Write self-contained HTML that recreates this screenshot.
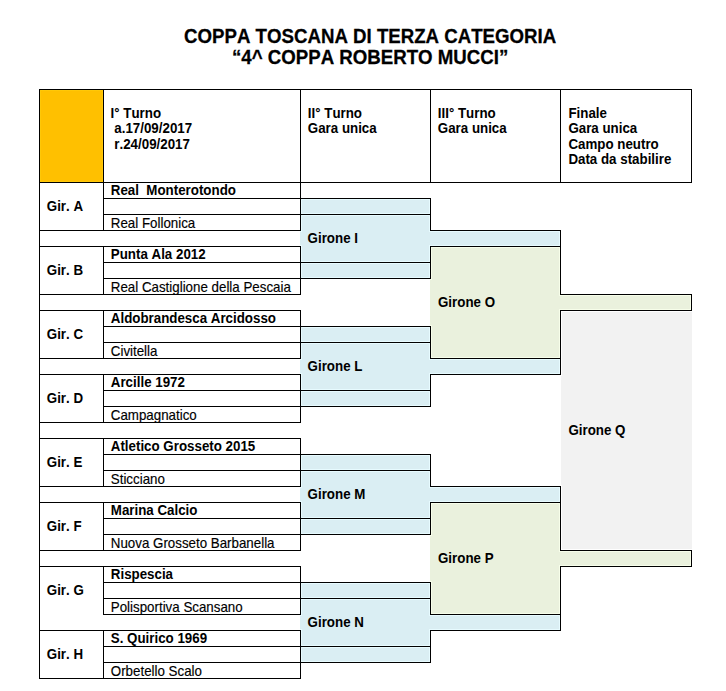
<!DOCTYPE html>
<html lang="it">
<head>
<meta charset="utf-8">
<title>Coppa Toscana di Terza Categoria</title>
<style>
html,body{margin:0;padding:0;background:#fff;}
body{width:726px;height:691px;position:relative;overflow:hidden;font-family:"Liberation Sans",sans-serif;color:#000;}
.f,.g,.l,.t,.h{position:absolute;}
.g1{background:#e7fbff;}.g2{background:#f7feea;}.g3{background:#ffffff;}.g4{background:#ffc808;}
.l{background:#000;}
.t,.h{white-space:pre;line-height:16px;height:16px;font-size:13.33px;font-kerning:none;transform:scaleY(1.04);transform-origin:0 12px;}
.t{-webkit-text-stroke:0.15px #000;}
.b{font-weight:bold;-webkit-text-stroke:0;}
.h{font-weight:bold;font-size:18.67px;line-height:22px;height:22px;transform-origin:0 17px;-webkit-text-stroke:0.25px #000;}
</style>
</head>
<body>
<div class="h" style="left:184.1px;top:26.00px">COPPA TOSCANA DI TERZA CATEGORIA</div>
<div class="h" style="left:232.0px;top:47.00px">“4^ COPPA ROBERTO MUCCI”</div>
<div class="f" style="left:39px;top:89px;width:64px;height:93px;background:#ffc000"></div>
<div class="f" style="left:300px;top:198px;width:130px;height:80px;background:#daeef3"></div>
<div class="f" style="left:300px;top:326px;width:130px;height:80px;background:#daeef3"></div>
<div class="f" style="left:300px;top:454px;width:130px;height:80px;background:#daeef3"></div>
<div class="f" style="left:300px;top:582px;width:130px;height:80px;background:#daeef3"></div>
<div class="f" style="left:430px;top:230px;width:130px;height:16px;background:#daeef3"></div>
<div class="f" style="left:430px;top:358px;width:130px;height:16px;background:#daeef3"></div>
<div class="f" style="left:430px;top:246px;width:130px;height:112px;background:#eaf1dd"></div>
<div class="f" style="left:430px;top:486px;width:130px;height:16px;background:#daeef3"></div>
<div class="f" style="left:430px;top:614px;width:130px;height:16px;background:#daeef3"></div>
<div class="f" style="left:430px;top:502px;width:130px;height:112px;background:#eaf1dd"></div>
<div class="f" style="left:561px;top:310px;width:131px;height:240px;background:#f2f2f2"></div>
<div class="f" style="left:560px;top:294px;width:131px;height:16px;background:#eaf1dd"></div>
<div class="f" style="left:560px;top:550px;width:131px;height:16px;background:#eaf1dd"></div>
<div class="g g1" style="left:301px;top:199px;width:129px;height:1px"></div>
<div class="g g1" style="left:301px;top:213px;width:129px;height:1px"></div>
<div class="g g1" style="left:301px;top:215px;width:129px;height:1px"></div>
<div class="g g1" style="left:429px;top:231px;width:131px;height:1px"></div>
<div class="g g1" style="left:429px;top:245px;width:131px;height:1px"></div>
<div class="g g1" style="left:301px;top:261px;width:129px;height:1px"></div>
<div class="g g1" style="left:301px;top:263px;width:129px;height:1px"></div>
<div class="g g1" style="left:301px;top:277px;width:129px;height:1px"></div>
<div class="g g1" style="left:301px;top:327px;width:129px;height:1px"></div>
<div class="g g1" style="left:301px;top:341px;width:129px;height:1px"></div>
<div class="g g1" style="left:301px;top:343px;width:129px;height:1px"></div>
<div class="g g1" style="left:429px;top:359px;width:131px;height:1px"></div>
<div class="g g1" style="left:429px;top:373px;width:131px;height:1px"></div>
<div class="g g1" style="left:301px;top:389px;width:129px;height:1px"></div>
<div class="g g1" style="left:301px;top:391px;width:129px;height:1px"></div>
<div class="g g1" style="left:301px;top:405px;width:129px;height:1px"></div>
<div class="g g1" style="left:301px;top:455px;width:129px;height:1px"></div>
<div class="g g1" style="left:301px;top:469px;width:129px;height:1px"></div>
<div class="g g1" style="left:301px;top:471px;width:129px;height:1px"></div>
<div class="g g1" style="left:429px;top:487px;width:131px;height:1px"></div>
<div class="g g1" style="left:429px;top:501px;width:131px;height:1px"></div>
<div class="g g1" style="left:301px;top:517px;width:129px;height:1px"></div>
<div class="g g1" style="left:301px;top:519px;width:129px;height:1px"></div>
<div class="g g1" style="left:301px;top:533px;width:129px;height:1px"></div>
<div class="g g1" style="left:301px;top:583px;width:129px;height:1px"></div>
<div class="g g1" style="left:301px;top:597px;width:129px;height:1px"></div>
<div class="g g1" style="left:301px;top:599px;width:129px;height:1px"></div>
<div class="g g1" style="left:429px;top:615px;width:131px;height:1px"></div>
<div class="g g1" style="left:429px;top:629px;width:131px;height:1px"></div>
<div class="g g1" style="left:301px;top:645px;width:129px;height:1px"></div>
<div class="g g1" style="left:301px;top:647px;width:129px;height:1px"></div>
<div class="g g1" style="left:301px;top:661px;width:129px;height:1px"></div>
<div class="g g1" style="left:300px;top:231px;width:1px;height:1px"></div>
<div class="g g1" style="left:300px;top:245px;width:1px;height:1px"></div>
<div class="g g1" style="left:300px;top:359px;width:1px;height:1px"></div>
<div class="g g1" style="left:300px;top:373px;width:1px;height:1px"></div>
<div class="g g1" style="left:300px;top:487px;width:1px;height:1px"></div>
<div class="g g1" style="left:300px;top:501px;width:1px;height:1px"></div>
<div class="g g1" style="left:300px;top:615px;width:1px;height:1px"></div>
<div class="g g1" style="left:300px;top:629px;width:1px;height:1px"></div>
<div class="g g1" style="left:301px;top:200px;width:1px;height:13px"></div>
<div class="g g1" style="left:301px;top:216px;width:1px;height:16px"></div>
<div class="g g1" style="left:301px;top:245px;width:1px;height:16px"></div>
<div class="g g1" style="left:301px;top:264px;width:1px;height:13px"></div>
<div class="g g1" style="left:301px;top:328px;width:1px;height:13px"></div>
<div class="g g1" style="left:301px;top:344px;width:1px;height:16px"></div>
<div class="g g1" style="left:301px;top:373px;width:1px;height:16px"></div>
<div class="g g1" style="left:301px;top:392px;width:1px;height:13px"></div>
<div class="g g1" style="left:301px;top:456px;width:1px;height:13px"></div>
<div class="g g1" style="left:301px;top:472px;width:1px;height:16px"></div>
<div class="g g1" style="left:301px;top:501px;width:1px;height:16px"></div>
<div class="g g1" style="left:301px;top:520px;width:1px;height:13px"></div>
<div class="g g1" style="left:301px;top:584px;width:1px;height:13px"></div>
<div class="g g1" style="left:301px;top:600px;width:1px;height:16px"></div>
<div class="g g1" style="left:301px;top:629px;width:1px;height:16px"></div>
<div class="g g1" style="left:301px;top:648px;width:1px;height:13px"></div>
<div class="g g1" style="left:429px;top:200px;width:1px;height:13px"></div>
<div class="g g1" style="left:429px;top:216px;width:1px;height:15px"></div>
<div class="g g1" style="left:429px;top:246px;width:1px;height:15px"></div>
<div class="g g1" style="left:429px;top:264px;width:1px;height:13px"></div>
<div class="g g1" style="left:429px;top:328px;width:1px;height:13px"></div>
<div class="g g1" style="left:429px;top:344px;width:1px;height:15px"></div>
<div class="g g1" style="left:429px;top:374px;width:1px;height:15px"></div>
<div class="g g1" style="left:429px;top:392px;width:1px;height:13px"></div>
<div class="g g1" style="left:429px;top:456px;width:1px;height:13px"></div>
<div class="g g1" style="left:429px;top:472px;width:1px;height:15px"></div>
<div class="g g1" style="left:429px;top:502px;width:1px;height:15px"></div>
<div class="g g1" style="left:429px;top:520px;width:1px;height:13px"></div>
<div class="g g1" style="left:429px;top:584px;width:1px;height:13px"></div>
<div class="g g1" style="left:429px;top:600px;width:1px;height:15px"></div>
<div class="g g1" style="left:429px;top:630px;width:1px;height:15px"></div>
<div class="g g1" style="left:429px;top:648px;width:1px;height:13px"></div>
<div class="g g1" style="left:559px;top:232px;width:1px;height:13px"></div>
<div class="g g1" style="left:559px;top:360px;width:1px;height:13px"></div>
<div class="g g1" style="left:559px;top:488px;width:1px;height:13px"></div>
<div class="g g1" style="left:559px;top:616px;width:1px;height:13px"></div>
<div class="g g2" style="left:431px;top:247px;width:129px;height:1px"></div>
<div class="g g2" style="left:559px;top:295px;width:132px;height:1px"></div>
<div class="g g2" style="left:559px;top:309px;width:132px;height:1px"></div>
<div class="g g2" style="left:431px;top:357px;width:129px;height:1px"></div>
<div class="g g2" style="left:431px;top:503px;width:129px;height:1px"></div>
<div class="g g2" style="left:559px;top:551px;width:132px;height:1px"></div>
<div class="g g2" style="left:559px;top:565px;width:132px;height:1px"></div>
<div class="g g2" style="left:431px;top:613px;width:129px;height:1px"></div>
<div class="g g2" style="left:430px;top:279px;width:1px;height:1px"></div>
<div class="g g2" style="left:430px;top:325px;width:1px;height:1px"></div>
<div class="g g2" style="left:430px;top:535px;width:1px;height:1px"></div>
<div class="g g2" style="left:430px;top:581px;width:1px;height:1px"></div>
<div class="g g2" style="left:431px;top:248px;width:1px;height:32px"></div>
<div class="g g2" style="left:431px;top:325px;width:1px;height:32px"></div>
<div class="g g2" style="left:431px;top:504px;width:1px;height:32px"></div>
<div class="g g2" style="left:431px;top:581px;width:1px;height:32px"></div>
<div class="g g2" style="left:559px;top:248px;width:1px;height:47px"></div>
<div class="g g2" style="left:559px;top:310px;width:1px;height:47px"></div>
<div class="g g2" style="left:559px;top:504px;width:1px;height:47px"></div>
<div class="g g2" style="left:559px;top:566px;width:1px;height:47px"></div>
<div class="g g2" style="left:690px;top:296px;width:1px;height:13px"></div>
<div class="g g2" style="left:690px;top:552px;width:1px;height:13px"></div>
<div class="g g3" style="left:561px;top:311px;width:131px;height:1px"></div>
<div class="g g3" style="left:561px;top:549px;width:131px;height:1px"></div>
<div class="g g3" style="left:561px;top:312px;width:1px;height:64px"></div>
<div class="g g3" style="left:561px;top:485px;width:1px;height:64px"></div>
<div class="g g4" style="left:40px;top:90px;width:63px;height:1px"></div>
<div class="g g4" style="left:40px;top:181px;width:63px;height:1px"></div>
<div class="g g4" style="left:40px;top:91px;width:1px;height:90px"></div>
<div class="g g4" style="left:102px;top:91px;width:1px;height:90px"></div>
<div class="l" style="left:39px;top:89px;width:653px;height:1px"></div>
<div class="l" style="left:39px;top:182px;width:653px;height:1px"></div>
<div class="l" style="left:103px;top:198px;width:328px;height:1px"></div>
<div class="l" style="left:103px;top:214px;width:328px;height:1px"></div>
<div class="l" style="left:39px;top:230px;width:262px;height:1px"></div>
<div class="l" style="left:430px;top:230px;width:131px;height:1px"></div>
<div class="l" style="left:39px;top:246px;width:262px;height:1px"></div>
<div class="l" style="left:430px;top:246px;width:131px;height:1px"></div>
<div class="l" style="left:103px;top:262px;width:328px;height:1px"></div>
<div class="l" style="left:103px;top:278px;width:328px;height:1px"></div>
<div class="l" style="left:39px;top:294px;width:262px;height:1px"></div>
<div class="l" style="left:560px;top:294px;width:132px;height:1px"></div>
<div class="l" style="left:39px;top:310px;width:262px;height:1px"></div>
<div class="l" style="left:560px;top:310px;width:132px;height:1px"></div>
<div class="l" style="left:103px;top:326px;width:328px;height:1px"></div>
<div class="l" style="left:103px;top:342px;width:328px;height:1px"></div>
<div class="l" style="left:39px;top:358px;width:262px;height:1px"></div>
<div class="l" style="left:430px;top:358px;width:131px;height:1px"></div>
<div class="l" style="left:39px;top:374px;width:262px;height:1px"></div>
<div class="l" style="left:430px;top:374px;width:131px;height:1px"></div>
<div class="l" style="left:103px;top:390px;width:328px;height:1px"></div>
<div class="l" style="left:103px;top:406px;width:328px;height:1px"></div>
<div class="l" style="left:39px;top:422px;width:262px;height:1px"></div>
<div class="l" style="left:39px;top:438px;width:262px;height:1px"></div>
<div class="l" style="left:103px;top:454px;width:328px;height:1px"></div>
<div class="l" style="left:103px;top:470px;width:328px;height:1px"></div>
<div class="l" style="left:39px;top:486px;width:262px;height:1px"></div>
<div class="l" style="left:430px;top:486px;width:131px;height:1px"></div>
<div class="l" style="left:39px;top:502px;width:262px;height:1px"></div>
<div class="l" style="left:430px;top:502px;width:131px;height:1px"></div>
<div class="l" style="left:103px;top:518px;width:328px;height:1px"></div>
<div class="l" style="left:103px;top:534px;width:328px;height:1px"></div>
<div class="l" style="left:39px;top:550px;width:262px;height:1px"></div>
<div class="l" style="left:560px;top:550px;width:132px;height:1px"></div>
<div class="l" style="left:39px;top:566px;width:262px;height:1px"></div>
<div class="l" style="left:560px;top:566px;width:132px;height:1px"></div>
<div class="l" style="left:103px;top:582px;width:328px;height:1px"></div>
<div class="l" style="left:103px;top:598px;width:328px;height:1px"></div>
<div class="l" style="left:103px;top:614px;width:198px;height:1px"></div>
<div class="l" style="left:430px;top:614px;width:131px;height:1px"></div>
<div class="l" style="left:39px;top:630px;width:262px;height:1px"></div>
<div class="l" style="left:430px;top:630px;width:131px;height:1px"></div>
<div class="l" style="left:103px;top:646px;width:328px;height:1px"></div>
<div class="l" style="left:103px;top:662px;width:328px;height:1px"></div>
<div class="l" style="left:39px;top:678px;width:262px;height:1px"></div>
<div class="l" style="left:39px;top:90px;width:1px;height:92px"></div>
<div class="l" style="left:39px;top:183px;width:1px;height:47px"></div>
<div class="l" style="left:39px;top:231px;width:1px;height:15px"></div>
<div class="l" style="left:39px;top:247px;width:1px;height:47px"></div>
<div class="l" style="left:39px;top:295px;width:1px;height:15px"></div>
<div class="l" style="left:39px;top:311px;width:1px;height:47px"></div>
<div class="l" style="left:39px;top:359px;width:1px;height:15px"></div>
<div class="l" style="left:39px;top:375px;width:1px;height:47px"></div>
<div class="l" style="left:39px;top:423px;width:1px;height:15px"></div>
<div class="l" style="left:39px;top:439px;width:1px;height:47px"></div>
<div class="l" style="left:39px;top:487px;width:1px;height:15px"></div>
<div class="l" style="left:39px;top:503px;width:1px;height:47px"></div>
<div class="l" style="left:39px;top:551px;width:1px;height:15px"></div>
<div class="l" style="left:39px;top:567px;width:1px;height:63px"></div>
<div class="l" style="left:39px;top:631px;width:1px;height:47px"></div>
<div class="l" style="left:103px;top:90px;width:1px;height:92px"></div>
<div class="l" style="left:103px;top:183px;width:1px;height:15px"></div>
<div class="l" style="left:103px;top:199px;width:1px;height:15px"></div>
<div class="l" style="left:103px;top:215px;width:1px;height:15px"></div>
<div class="l" style="left:103px;top:247px;width:1px;height:15px"></div>
<div class="l" style="left:103px;top:263px;width:1px;height:15px"></div>
<div class="l" style="left:103px;top:279px;width:1px;height:15px"></div>
<div class="l" style="left:103px;top:311px;width:1px;height:15px"></div>
<div class="l" style="left:103px;top:327px;width:1px;height:15px"></div>
<div class="l" style="left:103px;top:343px;width:1px;height:15px"></div>
<div class="l" style="left:103px;top:375px;width:1px;height:15px"></div>
<div class="l" style="left:103px;top:391px;width:1px;height:15px"></div>
<div class="l" style="left:103px;top:407px;width:1px;height:15px"></div>
<div class="l" style="left:103px;top:439px;width:1px;height:15px"></div>
<div class="l" style="left:103px;top:455px;width:1px;height:15px"></div>
<div class="l" style="left:103px;top:471px;width:1px;height:15px"></div>
<div class="l" style="left:103px;top:503px;width:1px;height:15px"></div>
<div class="l" style="left:103px;top:519px;width:1px;height:15px"></div>
<div class="l" style="left:103px;top:535px;width:1px;height:15px"></div>
<div class="l" style="left:103px;top:567px;width:1px;height:15px"></div>
<div class="l" style="left:103px;top:583px;width:1px;height:15px"></div>
<div class="l" style="left:103px;top:599px;width:1px;height:15px"></div>
<div class="l" style="left:103px;top:631px;width:1px;height:15px"></div>
<div class="l" style="left:103px;top:647px;width:1px;height:15px"></div>
<div class="l" style="left:103px;top:663px;width:1px;height:15px"></div>
<div class="l" style="left:300px;top:90px;width:1px;height:92px"></div>
<div class="l" style="left:300px;top:183px;width:1px;height:15px"></div>
<div class="l" style="left:300px;top:199px;width:1px;height:15px"></div>
<div class="l" style="left:300px;top:215px;width:1px;height:15px"></div>
<div class="l" style="left:300px;top:247px;width:1px;height:15px"></div>
<div class="l" style="left:300px;top:263px;width:1px;height:15px"></div>
<div class="l" style="left:300px;top:279px;width:1px;height:15px"></div>
<div class="l" style="left:300px;top:311px;width:1px;height:15px"></div>
<div class="l" style="left:300px;top:327px;width:1px;height:15px"></div>
<div class="l" style="left:300px;top:343px;width:1px;height:15px"></div>
<div class="l" style="left:300px;top:375px;width:1px;height:15px"></div>
<div class="l" style="left:300px;top:391px;width:1px;height:15px"></div>
<div class="l" style="left:300px;top:407px;width:1px;height:15px"></div>
<div class="l" style="left:300px;top:439px;width:1px;height:15px"></div>
<div class="l" style="left:300px;top:455px;width:1px;height:15px"></div>
<div class="l" style="left:300px;top:471px;width:1px;height:15px"></div>
<div class="l" style="left:300px;top:503px;width:1px;height:15px"></div>
<div class="l" style="left:300px;top:519px;width:1px;height:15px"></div>
<div class="l" style="left:300px;top:535px;width:1px;height:15px"></div>
<div class="l" style="left:300px;top:567px;width:1px;height:15px"></div>
<div class="l" style="left:300px;top:583px;width:1px;height:15px"></div>
<div class="l" style="left:300px;top:599px;width:1px;height:15px"></div>
<div class="l" style="left:300px;top:631px;width:1px;height:15px"></div>
<div class="l" style="left:300px;top:647px;width:1px;height:15px"></div>
<div class="l" style="left:300px;top:663px;width:1px;height:15px"></div>
<div class="l" style="left:430px;top:90px;width:1px;height:92px"></div>
<div class="l" style="left:430px;top:199px;width:1px;height:15px"></div>
<div class="l" style="left:430px;top:215px;width:1px;height:15px"></div>
<div class="l" style="left:430px;top:247px;width:1px;height:15px"></div>
<div class="l" style="left:430px;top:263px;width:1px;height:15px"></div>
<div class="l" style="left:430px;top:327px;width:1px;height:15px"></div>
<div class="l" style="left:430px;top:343px;width:1px;height:15px"></div>
<div class="l" style="left:430px;top:375px;width:1px;height:15px"></div>
<div class="l" style="left:430px;top:391px;width:1px;height:15px"></div>
<div class="l" style="left:430px;top:455px;width:1px;height:15px"></div>
<div class="l" style="left:430px;top:471px;width:1px;height:15px"></div>
<div class="l" style="left:430px;top:503px;width:1px;height:15px"></div>
<div class="l" style="left:430px;top:519px;width:1px;height:15px"></div>
<div class="l" style="left:430px;top:583px;width:1px;height:15px"></div>
<div class="l" style="left:430px;top:599px;width:1px;height:15px"></div>
<div class="l" style="left:430px;top:631px;width:1px;height:15px"></div>
<div class="l" style="left:430px;top:647px;width:1px;height:15px"></div>
<div class="l" style="left:560px;top:90px;width:1px;height:92px"></div>
<div class="l" style="left:560px;top:231px;width:1px;height:15px"></div>
<div class="l" style="left:560px;top:247px;width:1px;height:47px"></div>
<div class="l" style="left:560px;top:311px;width:1px;height:47px"></div>
<div class="l" style="left:560px;top:359px;width:1px;height:15px"></div>
<div class="l" style="left:560px;top:487px;width:1px;height:15px"></div>
<div class="l" style="left:560px;top:503px;width:1px;height:47px"></div>
<div class="l" style="left:560px;top:567px;width:1px;height:47px"></div>
<div class="l" style="left:560px;top:615px;width:1px;height:15px"></div>
<div class="l" style="left:691px;top:90px;width:1px;height:92px"></div>
<div class="l" style="left:691px;top:295px;width:1px;height:15px"></div>
<div class="l" style="left:691px;top:551px;width:1px;height:15px"></div>
<div class="t b" style="left:46.8px;top:199.00px">Gir. A</div>
<div class="t b" style="left:110.8px;top:183.00px">Real  Monterotondo</div>
<div class="t" style="left:110.8px;top:216.00px">Real Follonica</div>
<div class="t b" style="left:46.8px;top:263.00px">Gir. B</div>
<div class="t b" style="left:110.8px;top:247.00px">Punta Ala 2012</div>
<div class="t" style="left:110.8px;top:280.00px">Real Castiglione della Pescaia</div>
<div class="t b" style="left:46.8px;top:327.00px">Gir. C</div>
<div class="t b" style="left:110.8px;top:311.00px">Aldobrandesca Arcidosso</div>
<div class="t" style="left:110.8px;top:344.00px">Civitella</div>
<div class="t b" style="left:46.8px;top:391.00px">Gir. D</div>
<div class="t b" style="left:110.8px;top:375.00px">Arcille 1972</div>
<div class="t" style="left:110.8px;top:408.00px">Campagnatico</div>
<div class="t b" style="left:46.8px;top:455.00px">Gir. E</div>
<div class="t b" style="left:110.8px;top:439.00px">Atletico Grosseto 2015</div>
<div class="t" style="left:110.8px;top:472.00px">Sticciano</div>
<div class="t b" style="left:46.8px;top:519.00px">Gir. F</div>
<div class="t b" style="left:110.8px;top:503.00px">Marina Calcio</div>
<div class="t" style="left:110.8px;top:536.00px">Nuova Grosseto Barbanella</div>
<div class="t b" style="left:46.8px;top:583.00px">Gir. G</div>
<div class="t b" style="left:110.8px;top:567.00px">Rispescia</div>
<div class="t" style="left:110.8px;top:600.00px">Polisportiva Scansano</div>
<div class="t b" style="left:46.8px;top:647.00px">Gir. H</div>
<div class="t b" style="left:110.8px;top:631.00px">S. Quirico 1969</div>
<div class="t" style="left:110.8px;top:664.00px">Orbetello Scalo</div>
<div class="t b" style="left:307.6px;top:231.00px">Girone I</div>
<div class="t b" style="left:307.6px;top:359.00px">Girone L</div>
<div class="t b" style="left:307.6px;top:487.00px">Girone M</div>
<div class="t b" style="left:307.6px;top:615.00px">Girone N</div>
<div class="t b" style="left:438.0px;top:295.00px">Girone O</div>
<div class="t b" style="left:438.0px;top:551.00px">Girone P</div>
<div class="t b" style="left:568.4px;top:423.00px">Girone Q</div>
<div class="t b" style="left:110.6px;top:106.00px">I° Turno</div>
<div class="t b" style="left:110.6px;top:121.00px"> a.17/09/2017</div>
<div class="t b" style="left:110.6px;top:137.00px"> r.24/09/2017</div>
<div class="t b" style="left:307.8px;top:106.00px">II° Turno</div>
<div class="t b" style="left:307.8px;top:121.00px">Gara unica</div>
<div class="t b" style="left:437.8px;top:106.00px">III° Turno</div>
<div class="t b" style="left:437.8px;top:121.00px">Gara unica</div>
<div class="t b" style="left:568.4px;top:106.00px">Finale</div>
<div class="t b" style="left:568.4px;top:121.00px">Gara unica</div>
<div class="t b" style="left:568.4px;top:137.00px">Campo neutro</div>
<div class="t b" style="left:568.4px;top:152.00px">Data da stabilire</div>
</body>
</html>
